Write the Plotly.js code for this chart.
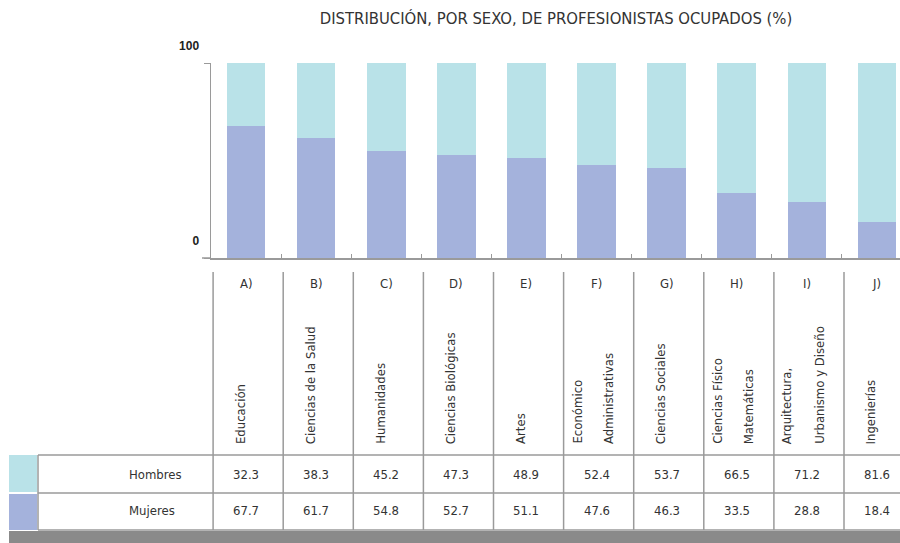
<!DOCTYPE html>
<html>
<head>
<meta charset="utf-8">
<script src="https://cdn.plot.ly/plotly-3.0.1.min.js"></script>
<style>
  html, body { margin: 0; padding: 0; background: #fff; }
  #chart { width: 900px; height: 543px; }
</style>
</head>
<body>
<div id="chart"></div>
<script>
// Data
const letters = ['A)', 'B)', 'C)', 'D)', 'E)', 'F)', 'G)', 'H)', 'I)', 'J)'];
const areas = [
    'Educación',
    'Ciencias de la Salud',
    'Humanidades',
    'Ciencias Biológicas',
    'Artes',
    'Económico<br>Administrativas',
    'Ciencias Sociales',
    'Ciencias Físico<br>Matemáticas',
    'Arquitectura,<br>Urbanismo y Diseño',
    'Ingenierías'
];
const hombres = [32.3, 38.3, 45.2, 47.3, 48.9, 52.4, 53.7, 66.5, 71.2, 81.6];
const mujeres = [67.7, 61.7, 54.8, 52.7, 51.1, 47.6, 46.3, 33.5, 28.8, 18.4];
const yTicks = [0, 100];

const colorHombres = '#b9e2e8';
const colorMujeres = '#a4b2dc';
const lineGray = '#9a9a9a';
const narrow = "'Liberation Sans Narrow', 'DejaVu Sans Condensed', 'Arial Narrow', sans-serif";

// plot area in pixels: left 211, top 63, bottom 258 (height 195), right 900
const W = 900, H = 543, L = 211, T = 63, B = 258;
const plotW = W - L, plotH = B - T;
const px = x => (x - L) / plotW;       // pixel x -> paper x
const py = y => (B - y) / plotH;       // pixel y -> paper y

const traces = [
    {
        type: 'bar', name: 'Mujeres', x: letters, y: mujeres,
        marker: { color: colorMujeres }, hoverinfo: 'skip'
    },
    {
        type: 'bar', name: 'Hombres', x: letters, y: hombres,
        marker: { color: colorHombres }, hoverinfo: 'skip'
    }
];

const shapes = [];
const annotations = [];
const line = (x0, y0, x1, y1, xref) => shapes.push({
    type: 'line', xref: xref || 'paper', yref: 'paper',
    x0: x0, x1: x1, y0: y0, y1: y1,
    line: { color: lineGray, width: 1.5 }
});

// table column borders, tied to the category axis
for (let i = 0; i <= letters.length; i++) {
    line(i - 0.47, py(272), i - 0.47, py(530), 'x');
}
// table row borders
line(px(38), py(455), 1, py(455));
line(px(38), py(493), 1, py(493));
line(px(38), py(530), 1, py(530));
line(px(38), py(455), px(38), py(530));
// baseline extension left of the y axis
line(px(202), 0, 0, 0);

// legend keys
shapes.push({ type: 'rect', xref: 'paper', yref: 'paper', x0: px(9), x1: px(37), y0: py(455), y1: py(492),
    fillcolor: colorHombres, line: { width: 0 } });
shapes.push({ type: 'rect', xref: 'paper', yref: 'paper', x0: px(9), x1: px(37), y0: py(494), y1: py(530),
    fillcolor: colorMujeres, line: { width: 0 } });
// gray strip at the bottom
shapes.push({ type: 'rect', xref: 'paper', yref: 'paper', x0: px(9), x1: px(905), y0: py(531), y1: py(545),
    fillcolor: '#8a8a8a', line: { width: 0 } });

const txtFont = { family: narrow, size: 13, color: '#333' };

letters.forEach((l, i) => {
    annotations.push({ xref: 'x', yref: 'paper', x: l, y: py(283), text: l, showarrow: false,
        yanchor: 'middle', font: txtFont });
    // rotated area names; two-line names get wider line spacing
    const parts = areas[i].split('<br>');
    const shifts = parts.length === 1 ? [-6] : [-20, 12];
    parts.forEach((p, k) => {
        annotations.push({ xref: 'x', yref: 'paper', x: l, y: py(446), text: p, showarrow: false,
            textangle: -90, yanchor: 'bottom', xshift: shifts[k], font: txtFont });
    });
    annotations.push({ xref: 'x', yref: 'paper', x: l, y: py(474), text: hombres[i].toFixed(1), showarrow: false,
        yanchor: 'middle', font: txtFont });
    annotations.push({ xref: 'x', yref: 'paper', x: l, y: py(511), text: mujeres[i].toFixed(1), showarrow: false,
        yanchor: 'middle', font: txtFont });
});
annotations.push({ xref: 'paper', yref: 'paper', x: px(127), y: py(474), text: 'Hombres', showarrow: false,
    yanchor: 'middle', font: txtFont });
annotations.push({ xref: 'paper', yref: 'paper', x: px(127), y: py(511), text: 'Mujeres', showarrow: false,
    yanchor: 'middle', font: txtFont });

const layout = {
    width: W, height: H,
    margin: { l: L, r: 0, t: T, b: H - B, pad: 0 },
    paper_bgcolor: '#fff', plot_bgcolor: '#fff',
    barmode: 'stack', bargap: 0.45,
    showlegend: false,
    title: {
        text: 'DISTRIBUCIÓN, POR SEXO, DE PROFESIONISTAS OCUPADOS (%)',
        xref: 'paper', x: px(556), xanchor: 'center',
        yref: 'container', y: 1 - 18 / H, yanchor: 'middle',
        font: { family: narrow, size: 16.5, color: '#333' }
    },
    xaxis: {
        type: 'category', range: [-0.5, -0.5 + plotW / 70.1],
        showline: true, linecolor: lineGray, linewidth: 1.5,
        ticks: 'inside', tickson: 'boundaries', ticklen: 4, tickcolor: lineGray,
        showticklabels: false, showgrid: false, zeroline: false, fixedrange: true
    },
    yaxis: {
        range: [0, 100], tickvals: yTicks, ticktext: yTicks.map(String),
        showline: true, linecolor: lineGray, linewidth: 1.5,
        ticks: 'outside', ticklen: 6, tickcolor: lineGray,
        ticklabelshift: -17, ticklabelstandoff: 2,
        tickfont: { family: 'Arial, Liberation Sans, sans-serif', size: 12, color: '#222', weight: 'bold' },
        showgrid: false, zeroline: false, fixedrange: true
    },
    shapes: shapes,
    annotations: annotations
};

Plotly.newPlot('chart', traces, layout, { displayModeBar: false, staticPlot: true });
</script>
</body>
</html>
